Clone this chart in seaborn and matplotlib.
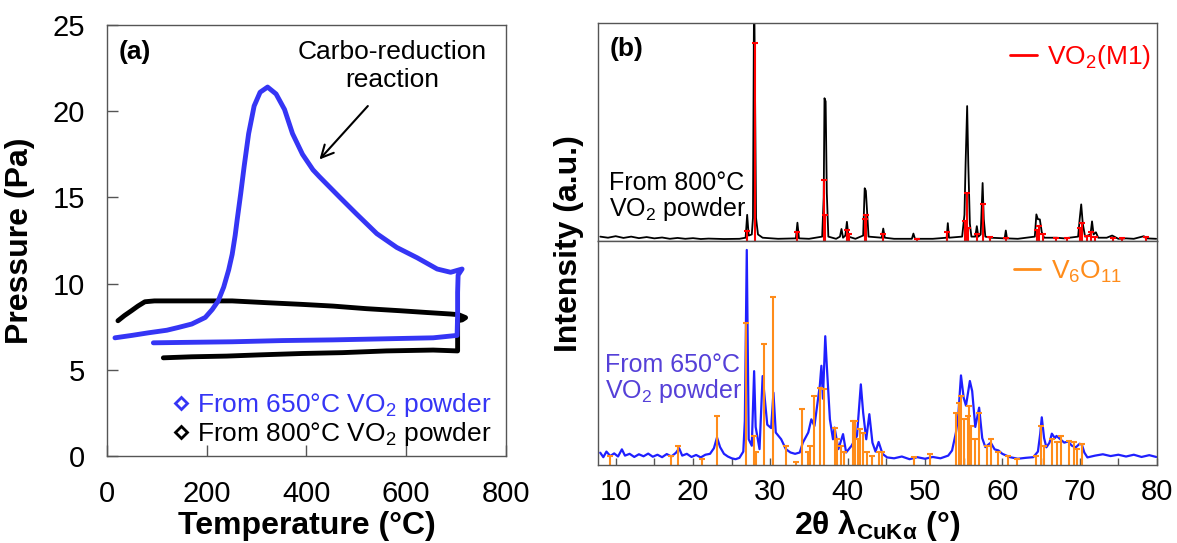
import matplotlib
matplotlib.use('Agg')
import matplotlib.pyplot as plt
from matplotlib.lines import Line2D
from matplotlib.ticker import MultipleLocator
import seaborn as sns

# ---------------- (a) pressure vs temperature ----------------
t650 = [16, 50, 83, 120, 143, 170, 197, 211, 223, 234, 244, 251, 257, 261, 268, 275, 284, 295, 307, 322,
        339, 356, 372, 392, 413, 426, 467, 500, 541, 581, 622, 662, 689, 712,
        704, 703, 703, 702, 654, 553, 453, 351, 251, 170, 93]
p650 = [6.86, 7.0, 7.15, 7.3, 7.46, 7.66, 8.04, 8.5, 9.0, 9.8, 10.8, 11.7, 12.8, 13.7, 15.2, 16.8, 18.7, 20.3, 21.1, 21.4,
        21.0, 20.1, 18.7, 17.5, 16.6, 16.2, 15.0, 14.05, 12.9, 12.1, 11.5, 10.85, 10.66, 10.85,
        10.5, 9.5, 8.2, 7.0, 6.86, 6.8, 6.74, 6.7, 6.63, 6.6, 6.57]

t800 = [22, 35, 49, 62, 76, 95, 117, 180, 251, 318, 390, 453, 520, 588, 640, 689, 705, 719,
        712, 703, 703, 703, 654, 560, 472, 390, 305, 240, 170, 113]
p800 = [7.85, 8.15, 8.43, 8.7, 8.95, 9.0, 9.0, 9.0, 9.0, 8.9, 8.8, 8.7, 8.55, 8.43, 8.33, 8.24, 8.2, 8.03,
        7.9, 7.85, 7.0, 6.1, 6.15, 6.1, 6.0, 5.95, 5.87, 5.8, 5.76, 5.7]

# ---------------- (b) XRD patterns ----------------
# 800 C powder (upper pattern)
tt800 = [8.0, 9.0, 10, 11, 12, 13, 14, 15, 16, 17, 18, 19, 20, 21, 22, 24, 26, 26.8, 27.0, 27.2,
         27.6, 27.75, 27.9, 28.15, 28.4, 29, 31, 33.3, 33.5, 33.7, 35, 36.7, 36.9, 37.0, 37.15,
         37.3, 37.5, 38.5, 39.0, 39.2, 39.4, 39.7, 39.9, 40.1, 41, 42.0, 42.2, 42.35, 42.5, 42.7,
         44.4, 44.6, 44.8, 46, 48.3, 48.5, 48.7, 51, 52.8, 52.95, 53.1, 54.8, 55.1, 55.25, 55.45,
         55.6, 55.8, 56.0, 56.5, 56.7, 56.9, 57.2, 57.45, 57.6, 57.8, 58.5, 60.3, 60.45, 60.6, 62,
         64.2, 64.4, 64.6, 64.85, 65.1, 65.4, 67, 68, 69.8, 70.0, 70.2, 70.4, 70.7, 71.4, 71.6,
         71.8, 72.1, 72.4, 73.5, 74.2, 75, 76, 77, 78.3, 78.6, 79.9]
int800 = [2.0, 1.5, 2.2, 1.4, 2.0, 1.3, 1.8, 1.2, 1.6, 1.0, 1.4, 1.0, 1.3, 0.9, 1.1, 0.9, 1.0, 1.5, 12, 2.5,
          3, 10.5, 120, 10.5, 3, 1.5, 1.0, 1.2, 8.4, 1.2, 1.0, 2, 20, 65.5, 64,
          22, 2, 1.0, 2.0, 5.5, 1.5, 2.5, 8.8, 2, 1.0, 2.5, 24.2, 23, 14, 2.0,
          1.5, 5.7, 1.5, 1.0, 1.0, 3.4, 1.0, 1.0, 1.5, 8.2, 1.5, 2, 12, 35.6, 61.9,
          35, 8, 2, 2, 6.8, 2, 3, 26.6, 10, 2, 1.5, 1.2, 4.8, 1.2, 1.0,
          2, 12.2, 10, 9.9, 4, 1.5, 1.5, 1.2, 2, 10, 16.8, 8, 2, 3, 9,
          3, 4, 1.5, 1.5, 2.5, 1.0, 1.2, 1.0, 2.2, 1.2, 1.0]

# VO2(M1) reference sticks
m1_pos = [27.0, 27.95, 33.5, 37.0, 37.1, 39.85, 40.2, 42.2, 42.4, 44.6, 49.0, 52.9, 55.2, 55.45,
          55.6, 56.7, 57.5, 58.4, 60.5, 64.5, 64.75, 65.2, 67.0, 68.3, 70.1, 70.3, 71.0, 71.5,
          72.0, 74.3, 75.5, 78.6]
m1_int = [4.4, 90.8, 4.0, 28, 12, 5, 3, 10, 12, 3, 1, 4, 9, 21.8,
          6, 3, 16.9, 2, 1.5, 5, 7, 3, 1.5, 1.5, 6, 8.4, 2.5, 4,
          2, 1.5, 1.5, 2]

# 650 C powder (lower pattern)
tt650 = [8.0, 8.4, 8.8, 9.3, 9.8, 10.3, 10.8, 11.2, 11.8, 12.4, 13.0, 13.6, 14.2, 14.8, 15.4, 16.0,
         16.6, 17.2, 17.8, 18.2, 18.6, 19.2, 19.8, 20.4, 21.0, 21.6, 22.2, 22.7, 23.1, 23.5, 24.0,
         24.5, 25.0, 25.5, 26.0, 26.5, 26.7, 26.95, 27.2, 27.6, 27.9, 28.1, 28.6, 29.0, 29.3, 29.6,
         30.1, 30.4, 30.7, 31.4, 32.0, 32.6, 33.2, 33.8, 34.2, 34.9, 35.3, 35.7, 36.4, 36.6, 36.8,
         37.1, 37.3, 37.7, 38.1, 38.3, 38.8, 39.4, 39.8, 40.5, 41.2, 41.7, 42.0, 42.4, 42.8, 43.2,
         43.6, 44.0, 44.5, 45.1, 46, 47, 48, 49, 50, 51, 52, 53, 53.5, 54.0, 54.3, 54.65, 55.0,
         55.3, 55.8, 56.1, 56.5, 57.0, 57.4, 57.8, 58.5, 59.0, 59.5, 60.0, 61, 62, 63, 64, 64.6,
         64.9, 65.1, 65.4, 65.7, 66.1, 66.4, 66.8, 67.0, 67.5, 68.0, 68.5, 69.0, 69.5, 70.0, 70.3,
         70.6, 71.0, 72, 73, 74, 75, 76, 77, 78, 79, 79.9]
int650 = [5.5, 3.5, 6.0, 4.0, 5.2, 3.8, 7.0, 4.2, 5.0, 3.6, 4.8, 3.9, 5.1, 3.7, 4.6, 3.5,
          4.9, 3.8, 5.5, 7.5, 4.2, 5.0, 3.6, 4.5, 3.4, 4.6, 5.0, 7.5, 12.3, 8.0, 5.0,
          3.8, 3.0, 2.6, 3.2, 6.0, 19.7, 96, 11.5, 8.6, 41.9, 17, 7.1, 39.7, 29, 18,
          16.5, 32.3, 14.5, 11.5, 7.1, 5.6, 5.0, 5.6, 10, 14.5, 20.4, 17.4, 35.6, 44.3, 29.6,
          57.5, 44.3, 20.4, 11.5, 16.7, 7.1, 13.8, 5.6, 8.6, 13, 36, 23.4, 11.5, 22.7, 10,
          6, 10.3, 5, 3.4, 3.0, 3.8, 2.6, 3.5, 2.8, 3.6, 3.0, 4.2, 6.5, 14.5, 22, 40, 30,
          26.5, 37.5, 33, 17, 25.6, 12, 8, 10, 7, 6.5, 5, 3.5, 2.8, 3.2, 3.5, 6,
          14, 21.3, 12, 7.9, 10, 14, 12, 13, 11.5, 10, 10.5, 8.6, 7.9, 9.5, 9,
          5.6, 3.4, 4.2, 4.8, 4.0, 4.6, 3.8, 4.6, 3.6, 4.4, 3.6]

# V6O11 reference sticks
v6_pos = [9.3, 17.2, 18.1, 21.1, 23.05, 26.85, 27.9, 28.1, 29.2, 30.4, 32.0, 33.3, 34.1, 34.9,
          35.1, 35.6, 36.4, 37.0, 38.3, 38.6, 39.2, 39.5, 40.7, 41.0, 41.3, 41.6, 42.0, 42.5,
          43.1, 44.0, 44.4, 48.6, 50.6, 54.0, 54.4, 54.7, 55.1, 55.5, 55.7, 56.0, 56.5, 57.0,
          58.0, 58.5, 59.4, 60.7, 61.9, 64.4, 65.0, 65.4, 66.4, 67.1, 67.6, 68.6, 69.3, 69.7, 70.3]
v6_int = [4.1, 4.1, 8.6, 2.6, 21.9, 63.4, 13, 5.6, 53.8, 75, 8.6, 1.2, 25.2, 5.6,
          8.6, 30.8, 34.5, 33.8, 16.7, 11.6, 8.6, 5.6, 19.7, 19.7, 11.6, 16, 14.5, 5.6,
          4.1, 5.6, 5.6, 3.4, 4.9, 23.4, 27.9, 30.8, 20.4, 21.9, 26.4, 17.5, 11.6, 23.4,
          8.6, 11.6, 5.6, 4.1, 2.6, 4.1, 17.5, 8.6, 11.6, 10.1, 13, 10.8, 10.1, 7.1, 9.4]

BLUE_A = '#3535F5'
BLUE_B = '#1F1FFF'
PURPLE = '#5540D8'
ORANGE = '#FF8C1A'
SPINE = '#555555'

sns.set_theme(style='white')
plt.rcParams['font.family'] = ['Liberation Sans', 'DejaVu Sans']
plt.rcParams['mathtext.fontset'] = 'custom'
plt.rcParams['mathtext.rm'] = 'Liberation Sans'
plt.rcParams['mathtext.it'] = 'Liberation Sans:italic'
plt.rcParams['mathtext.bf'] = 'Liberation Sans:bold'
plt.rcParams['text.color'] = 'black'
plt.rcParams['axes.labelcolor'] = 'black'
plt.rcParams['xtick.color'] = 'black'
plt.rcParams['ytick.color'] = 'black'

fig = plt.figure(figsize=(11.77, 5.43), dpi=100)
ax_a = fig.add_axes([0.0909, 0.160, 0.339, 0.794])
ax_top = fig.add_axes([0.508, 0.5562, 0.475, 0.4014])
ax_bot = fig.add_axes([0.508, 0.1436, 0.475, 0.4126], sharex=ax_top)

# ---- panel (a) ----
sns.lineplot(x=t800, y=p800, sort=False, estimator=None, color='black', lw=3.5, ax=ax_a)
sns.lineplot(x=t650, y=p650, sort=False, estimator=None, color=BLUE_A, lw=3.5, ax=ax_a)
ax_a.set_xlim(0, 800)
ax_a.set_ylim(0, 25)
ax_a.xaxis.set_major_locator(MultipleLocator(200))
ax_a.yaxis.set_major_locator(MultipleLocator(5))
ax_a.tick_params(axis='x', direction='in', length=8, width=1, color=SPINE,
                 labelcolor='black', labelsize=21, pad=17, bottom=True)
ax_a.tick_params(axis='y', direction='in', length=8, width=1, color=SPINE,
                 labelcolor='black', labelsize=21, pad=16, left=True)
for s in ax_a.spines.values():
    s.set_color(SPINE)
    s.set_linewidth(1)
ax_a.set_xlabel('Temperature (°C)', fontsize=23, fontweight='bold', labelpad=2)
ax_a.set_ylabel('Pressure (Pa)', fontsize=23, fontweight='bold')
ax_a.yaxis.set_label_coords(-0.18, 0.5)

handles = [Line2D([], [], marker='D', ms=6, mfc='none', mec=BLUE_A, mew=2, ls='none'),
           Line2D([], [], marker='D', ms=6, mfc='none', mec='black', mew=2, ls='none')]
ax_a.legend(handles, ['From 650°C VO$_2$ powder', 'From 800°C VO$_2$ powder'],
            loc='lower right', bbox_to_anchor=(1.01, -0.025), frameon=False, fontsize=19,
            handlelength=0.6, handletextpad=0.3, labelspacing=0.05, borderaxespad=0.3,
            labelcolor=[BLUE_A, 'black'])

ax_a.text(572, 22.6, 'Carbo-reduction\nreaction', ha='center', va='center', fontsize=19)
ax_a.annotate('', xy=(426, 17.2), xytext=(523, 20.3),
              arrowprops=dict(arrowstyle='->', lw=1.5, color='black',
                              shrinkA=0, shrinkB=0, mutation_scale=22))
ax_a.text(0.028, 0.965, '(a)', transform=ax_a.transAxes, fontsize=19,
          fontweight='bold', va='top', ha='left')

# ---- panel (b), upper pattern ----
sns.lineplot(x=tt800, y=int800, sort=False, estimator=None, color='black', lw=1.3, ax=ax_top)
ax_top.vlines(m1_pos, 0, m1_int, color='red', lw=1.5)
ax_top.plot(m1_pos, m1_int, ls='none', marker='_', ms=4, mew=1.5, color='red')
ax_top.set_ylim(0, 100)
ax_top.set_yticks([])
ax_top.tick_params(axis='x', bottom=False, labelbottom=False)
ax_top.text(0.021, 0.936, '(b)', transform=ax_top.transAxes, fontsize=19,
            fontweight='bold', va='top', ha='left')
ax_top.text(0.02, 0.204, 'From 800°C\nVO$_2$ powder', transform=ax_top.transAxes,
            fontsize=18, va='center', ha='left', linespacing=1.0)
ax_top.legend([Line2D([], [], color='red', lw=2)], ['VO$_2$(M1)'], loc='upper right',
              bbox_to_anchor=(1.023, 0.993), frameon=False, fontsize=19, handlelength=1.0,
              handletextpad=0.4, labelcolor='red', borderaxespad=0.3)

# ---- panel (b), lower pattern ----
sns.lineplot(x=tt650, y=int650, sort=False, estimator=None, color=BLUE_B, lw=1.6, ax=ax_bot)
ax_bot.vlines(v6_pos, 0, v6_int, color=ORANGE, lw=1.5)
ax_bot.plot(v6_pos, v6_int, ls='none', marker='_', ms=4, mew=1.5, color=ORANGE)
ax_bot.set_ylim(0, 100)
ax_bot.set_yticks([])
ax_bot.set_xlim(7.7, 80)
ax_bot.xaxis.set_major_locator(MultipleLocator(10))
ax_bot.xaxis.set_minor_locator(MultipleLocator(5))
ax_bot.tick_params(axis='x', which='both', direction='in', length=5, width=1, color=SPINE,
                   labelcolor='black', labelsize=21, pad=9, bottom=True)
ax_bot.text(0.0125, 0.384, 'From 650°C\nVO$_2$ powder', transform=ax_bot.transAxes,
            fontsize=18, va='center', ha='left', color=PURPLE, linespacing=1.0)
ax_bot.legend([Line2D([], [], color=ORANGE, lw=2)], ['V$_6$O$_{11}$'], loc='upper right',
              bbox_to_anchor=(0.97, 1.005), frameon=False, fontsize=19, handlelength=1.0,
              handletextpad=0.4, labelcolor=ORANGE, borderaxespad=0.3)
ax_bot.set_xlabel(r'2θ λ$_\mathbf{CuKα}$ (°)', fontsize=23, fontweight='bold', labelpad=2)

for ax in (ax_top, ax_bot):
    for s in ax.spines.values():
        s.set_color(SPINE)
        s.set_linewidth(1)
    ax.set_ylabel('')

fig.text(569 / 1177, 1 - 244 / 543, 'Intensity (a.u.)', rotation=90, fontsize=23,
         fontweight='bold', ha='center', va='center')

fig.savefig('out.png', dpi=100)
